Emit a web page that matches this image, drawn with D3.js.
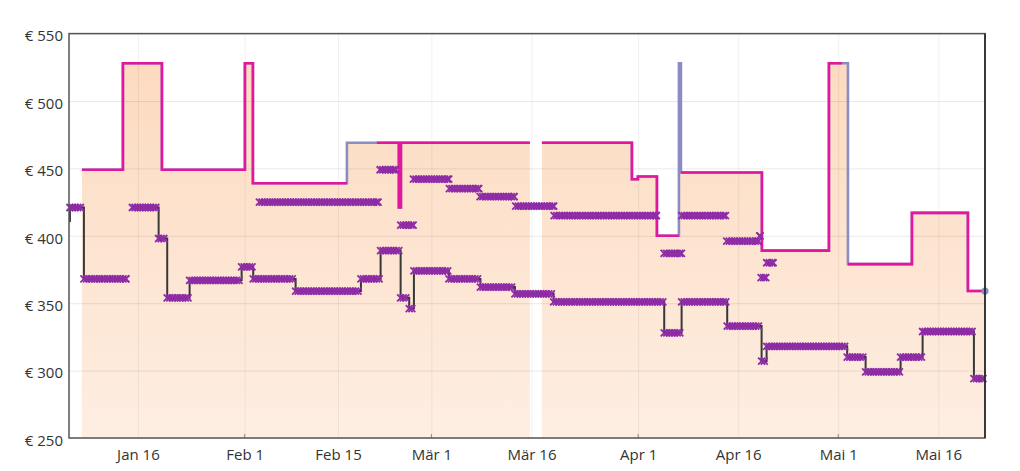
<!DOCTYPE html>
<html><head><meta charset="utf-8">
<script src="https://cdn.jsdelivr.net/npm/d3@7/dist/d3.min.js"></script>
<style>body{margin:0;background:#fff}text{font-family:"Open Sans","Noto Sans",sans-serif}</style>
</head><body>
<svg id="chart" width="1020" height="471"></svg>
<script>
const parse = d3.timeParse("%Y-%m-%dT%H:%M");

// Main price series (grey-violet line, peach fill); null = no data
const priceDates = ["2023-01-07T14:30","2023-01-13T18:00","2023-01-19T14:20","2023-02-01T01:00","2023-02-02T05:45",
  "2023-02-16T08:00","2023-02-24T03:00","2023-02-24T10:20","2023-03-15T18:30","2023-03-17T13:40",
  "2023-03-31T01:30","2023-03-31T23:00","2023-04-03T19:30","2023-04-07T02:40","2023-04-07T09:50",
  "2023-04-19T13:15","2023-04-29T14:25","2023-05-02T10:50","2023-05-12T01:00","2023-05-20T10:30","2023-05-23T00:00"];
const priceValues = [449,528,449,528,439,469,421,469,null,469,442,444,400,528,447,389,528,379,417,359,359];

// Same series drawn in pink; null where only the grey-violet line shows
const pinkDates = ["2023-01-07T14:30","2023-01-13T18:00","2023-01-19T14:20","2023-02-01T01:00","2023-02-02T05:45",
  "2023-02-16T08:00","2023-02-20T20:00","2023-02-24T03:00","2023-02-24T10:20","2023-03-15T18:30","2023-03-17T13:40",
  "2023-03-31T01:30","2023-03-31T23:00","2023-04-03T19:30","2023-04-07T02:40","2023-04-07T09:50",
  "2023-04-19T13:15","2023-04-29T14:25","2023-05-01T13:15","2023-05-02T10:50","2023-05-12T01:00","2023-05-20T10:30","2023-05-23T00:00"];
const pinkValues = [449,528,449,528,439,null,469,421,469,null,469,442,444,400,null,447,389,528,null,379,417,359,359];

// Lower offer series (dark step line + x markers); null = gap
const lowerDates = ["2023-01-04T12:00","2023-01-05T19:20","2023-01-07T21:40","2023-01-14T04:50","2023-01-15T04:10",
  "2023-01-19T02:30","2023-01-20T09:25","2023-01-23T18:00","2023-01-31T13:10","2023-02-02T06:50","2023-02-08T15:25",
  "2023-02-18T10:25","2023-02-21T09:15","2023-02-24T09:15","2023-02-25T16:10","2023-02-26T09:05","2023-03-03T15:00",
  "2023-03-08T08:20","2023-03-13T12:30","2023-03-19T07:45","2023-04-04T21:45","2023-04-07T12:20","2023-04-14T08:25",
  "2023-04-19T12:10","2023-04-20T06:10","2023-05-02T08:10","2023-05-05T02:25","2023-05-10T08:20","2023-05-13T15:30",
  "2023-05-21T08:05","2023-05-22T16:30"];
const lowerValues = [411,421,368,null,421,398,354,367,377,368,359,368,389,354,346,374,368,362,357,351,328,351,333,307,318,310,299,310,329,294,294];

// Upper offer series (x markers only), runs from start to end
const upperStart = ["2023-02-03T05:10","2023-02-21T07:30","2023-02-24T09:35","2023-02-26T07:20","2023-03-03T16:50",
  "2023-03-08T07:20","2023-03-13T15:25","2023-03-19T09:35","2023-04-04T21:25","2023-04-07T12:40","2023-04-14T06:35",
  "2023-04-19T06:05","2023-04-19T10:25","2023-04-20T06:35"];
const upperEnd = ["2023-02-21T00:15","2023-02-23T14:30","2023-02-26T06:15","2023-03-03T14:20","2023-03-08T02:15",
  "2023-03-13T09:40","2023-03-19T08:10","2023-04-03T17:40","2023-04-07T11:35","2023-04-14T02:00","2023-04-18T23:35",
  "2023-04-19T06:05","2023-04-20T03:00","2023-04-21T05:35"];
const upperValue = [425,449,408,442,435,429,422,415,387,415,396,400,369,380];

// Axes
const yTicks = [250,300,350,400,450,500,550];
const xTickDates = ["2023-01-16T00:00","2023-02-01T00:00","2023-02-15T00:00","2023-03-01T00:00","2023-03-16T00:00",
  "2023-04-01T00:00","2023-04-16T00:00","2023-05-01T00:00","2023-05-16T00:00"];
const xTickLabels = ["Jan 16","Feb 1","Feb 15","Mär 1","Mär 16","Apr 1","Apr 16","Mai 1","Mai 16"];
const monthStarts = ["2023-02-01T00:00","2023-03-01T00:00","2023-04-01T00:00","2023-05-01T00:00"];

const L = 69, R = 985, T = 33.6, B = 438;
const x = d3.scaleTime().domain([parse("2023-01-05T16:00"), parse("2023-05-23T00:00")]).range([L, R]);
const y = d3.scaleLinear().domain([250, 550]).range([B, T]);

const svg = d3.select("#chart");
const defs = svg.append("defs");
defs.append("clipPath").attr("id","clip").append("rect").attr("x",L).attr("y",T).attr("width",R-L).attr("height",B-T);
const grad = defs.append("linearGradient").attr("id","fillGrad").attr("gradientUnits","userSpaceOnUse")
  .attr("x1",0).attr("x2",0).attr("y1",y(550)).attr("y2",y(250));
grad.append("stop").attr("offset","0").attr("stop-color","#fcd9bd");
grad.append("stop").attr("offset","1").attr("stop-color","#feeee2");

function stepPoints(dates, vals) {
  const pts = [];
  for (let i = 0; i < dates.length; i++) {
    const t = parse(dates[i]);
    if (vals[i] == null) { pts.push({t, v:null}); continue; }
    pts.push({t, v:vals[i]});
    if (i + 1 < dates.length && vals[i+1] == null) pts.push({t:parse(dates[i+1]), v:vals[i]});
  }
  return pts;
}
const pricePts = stepPoints(priceDates, priceValues);
const pinkPts = stepPoints(pinkDates, pinkValues);
const lowerPts = stepPoints(lowerDates, lowerValues);

// Fill area
const area = d3.area().curve(d3.curveStepAfter).defined(d => d.v != null)
  .x(d => x(d.t)).y0(y(250)).y1(d => y(d.v));
svg.append("path").datum(pricePts).attr("d", area).attr("fill","url(#fillGrad)").attr("clip-path","url(#clip)");

// Grid
svg.append("g").attr("transform",`translate(${L},0)`)
  .call(d3.axisLeft(y).tickValues(yTicks).tickSize(-(R-L)).tickFormat(""))
  .call(g => g.select(".domain").remove())
  .call(g => g.selectAll("line").attr("stroke","#000").attr("stroke-opacity",0.085));
svg.append("g").attr("transform",`translate(0,${B})`)
  .call(d3.axisBottom(x).tickValues(xTickDates.map(parse)).tickSize(-(B-T)).tickFormat(""))
  .call(g => g.select(".domain").remove())
  .call(g => g.selectAll("line").attr("stroke","#000").attr("stroke-opacity",0.06));

// Lines
const line = d3.line().curve(d3.curveStepAfter).defined(d => d.v != null).x(d => x(d.t)).y(d => y(d.v));
const plot = svg.append("g").attr("clip-path","url(#clip)");
plot.append("path").datum(pricePts).attr("d", line).attr("fill","none").attr("stroke","#8c8cc4").attr("stroke-width",2.6);
plot.append("path").datum(pinkPts).attr("d", line).attr("fill","none").attr("stroke","#e3179d").attr("stroke-width",2.6);
plot.append("path").datum(lowerPts).attr("d", line).attr("fill","none").attr("stroke","#383838").attr("stroke-width",2);

// Markers
const markerXs = [];
function addRun(t0, t1, v, inclusiveEnd) {
  const x0 = x(t0), x1 = x(t1);
  if (x0 < L) return;
  const stop = inclusiveEnd ? x1 + 0.01 : x1 - 1;
  if (stop < x0) { markerXs.push([x0, y(v)]); return; }
  for (let px = x0; px <= stop; px += 2.6) markerXs.push([px, y(v)]);
  if (inclusiveEnd) markerXs.push([x1, y(v)]);
}
for (let i = 0; i < lowerDates.length - 1; i++) {
  if (lowerValues[i] == null) continue;
  addRun(parse(lowerDates[i]), parse(lowerDates[i+1]), lowerValues[i], i + 1 === lowerDates.length - 1 || lowerValues[i+1] == null);
}
for (let i = 0; i < upperValue.length; i++) addRun(parse(upperStart[i]), parse(upperEnd[i]), upperValue[i], true);

const s = 3.5;
svg.append("g").selectAll("path").data(markerXs).join("path")
  .attr("transform", d => `translate(${d[0]},${d[1]})`)
  .attr("d", `M${-s},${-s}L${s},${s}M${-s},${s}L${s},${-s}`)
  .attr("stroke","#8e2ba6").attr("stroke-width",1.8).attr("fill","none");

// End dot
svg.append("circle").attr("cx", x(parse(priceDates[priceDates.length-1]))).attr("cy", y(priceValues[priceValues.length-1]))
  .attr("r",3.6).attr("fill","#8c8cc4");

// Month tick marks
svg.append("g").selectAll("line").data(monthStarts.map(parse)).join("line")
  .attr("x1", d => x(d)).attr("x2", d => x(d)).attr("y1", B).attr("y2", B - 4)
  .attr("stroke","#888").attr("stroke-width",1);

// Frame
svg.append("rect").attr("x",L).attr("y",T).attr("width",R-L).attr("height",B-T)
  .attr("fill","none").attr("stroke","#555").attr("stroke-width",1.5);
svg.append("line").attr("x1",R).attr("x2",R).attr("y1",T).attr("y2",B).attr("stroke","#222").attr("stroke-width",1.5);

// Axis labels
svg.append("g").attr("transform",`translate(${L},0)`)
  .call(d3.axisLeft(y).tickValues(yTicks).tickSize(0).tickPadding(6).tickFormat(d => "€ " + d))
  .call(g => g.select(".domain").remove())
  .call(g => g.selectAll("text").attr("font-size",15).attr("fill","#333").attr("dy","0.48em")
      .style("font-family",'"Open Sans","Noto Sans",sans-serif'));
svg.append("g").attr("transform",`translate(0,${B})`)
  .call(d3.axisBottom(x).tickValues(xTickDates.map(parse)).tickSize(0).tickPadding(11)
      .tickFormat((d,i) => xTickLabels[i]))
  .call(g => g.select(".domain").remove())
  .call(g => g.selectAll("text").attr("font-size",15).attr("fill","#333")
      .style("font-family",'"Open Sans","Noto Sans",sans-serif'));
</script>
</body></html>
